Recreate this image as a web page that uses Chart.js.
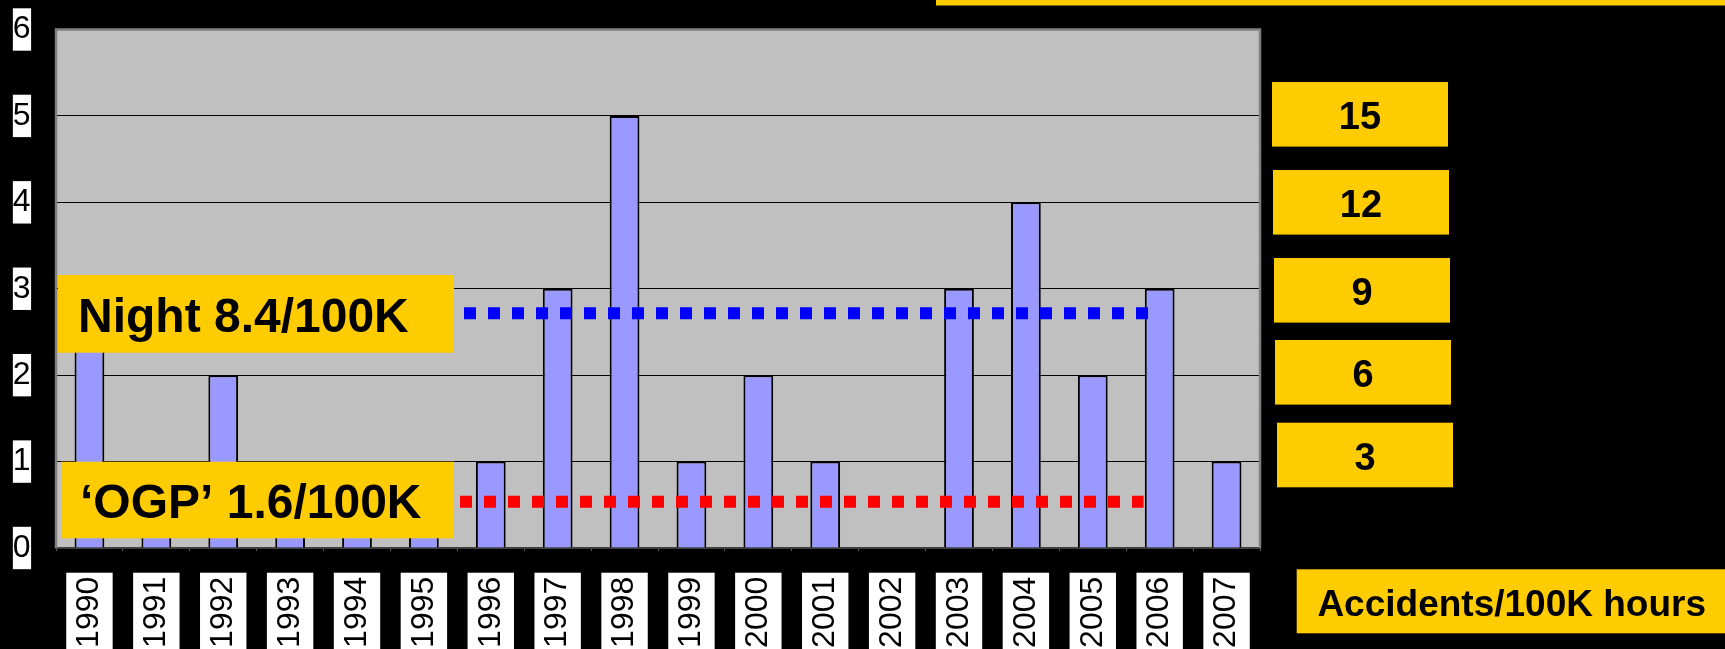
<!DOCTYPE html>
<html>
<head>
<meta charset="utf-8">
<script src="https://cdn.jsdelivr.net/npm/chart.js@4.4.1/dist/chart.umd.min.js"></script>
<style>
  html, body { margin: 0; padding: 0; background: #000; }
  #wrap { width: 1725px; height: 649px; position: relative; overflow: hidden; }
</style>
</head>
<body>
<div id="wrap"><canvas id="c" width="1725" height="649"></canvas></div>
<script>
// ---- data ----
const years = ['1990','1991','1992','1993','1994','1995','1996','1997','1998','1999','2000','2001','2002','2003','2004','2005','2006','2007'];
const accidents = [3, 1, 2, 1, 1, 1, 1, 3, 5, 1, 2, 1, 0, 3, 4, 2, 3, 1];
const yTickValues = [0, 1, 2, 3, 4, 5, 6];
// reference lines (y in accident-count units; x in category units on a hidden linear axis)
const nightLine = [{ x: 6.10, y: 2.716 }, { x: 16.34, y: 2.716 }];
const ogpLine = [{ x: 6.04, y: 0.536 }, { x: 16.26, y: 0.536 }];
const nightLabel = 'Night 8.4/100K';
const ogpLabel = '\u2018OGP\u2019 1.6/100K';
const rateLabels = ['15', '12', '9', '6', '3'];
const rateTitle = 'Accidents/100K hours';

const FONT = "'Liberation Sans', Arial, sans-serif";
const GOLD = '#FFCC00';

const bgPlugin = {
  id: 'bg',
  beforeDraw(chart) {
    const { ctx, chartArea: a } = chart;
    ctx.save();
    ctx.fillStyle = '#000';
    ctx.fillRect(0, 0, chart.width, chart.height);
    ctx.fillStyle = '#C0C0C0';
    ctx.fillRect(a.left, a.top, a.right - a.left, a.bottom - a.top);
    ctx.restore();
  },
  beforeDatasetsDraw(chart) {
    const { ctx, chartArea: a } = chart;
    ctx.save();
    ctx.strokeStyle = '#808080';
    ctx.lineWidth = 2.5;
    ctx.beginPath();
    ctx.moveTo(a.left, a.bottom);
    ctx.lineTo(a.left, a.top);
    ctx.lineTo(a.right, a.top);
    ctx.lineTo(a.right, a.bottom);
    ctx.stroke();
    ctx.restore();
  },
  afterDraw(chart) {
    const ctx = chart.ctx;
    ctx.save();
    ctx.fillStyle = GOLD;
    ctx.fillRect(936, 0, 789, 5.5);

    // Night box
    ctx.fillStyle = GOLD;
    ctx.fillRect(58, 275, 396, 77.7);
    ctx.fillStyle = '#000';
    ctx.font = 'bold 48px ' + FONT;
    ctx.textAlign = 'left';
    ctx.textBaseline = 'alphabetic';
    ctx.fillText(nightLabel, 78, 331.7);

    // OGP box
    ctx.fillStyle = GOLD;
    ctx.fillRect(61, 461.7, 393, 76.6);
    ctx.fillStyle = '#000';
    ctx.fillText(ogpLabel, 80, 518.3);

    // rate boxes
    const boxes = [
      [1272, 82], [1273, 170], [1274, 258], [1275, 340], [1277, 422.7]
    ];
    ctx.font = 'bold 38px ' + FONT;
    ctx.textAlign = 'center';
    rateLabels.forEach((t, i) => {
      const [bx, by] = boxes[i];
      ctx.fillStyle = GOLD;
      ctx.fillRect(bx, by, 176, 64.6);
      ctx.fillStyle = '#000';
      ctx.fillText(t, bx + 88, by + 47);
    });

    // title box
    ctx.fillStyle = GOLD;
    ctx.fillRect(1296.7, 569.3, 1725 - 1296.7, 64);
    ctx.fillStyle = '#000';
    ctx.font = 'bold 37px ' + FONT;
    ctx.fillText(rateTitle, 1511.7, 616);
    ctx.restore();
  }
};

new Chart(document.getElementById('c'), {
  type: 'bar',
  data: {
    labels: years,
    datasets: [
      {
        type: 'bar',
        label: 'Accidents',
        data: accidents,
        backgroundColor: '#9999FF',
        borderColor: '#000000',
        borderWidth: 2,
        grouped: false,
        barPercentage: 0.445,
        categoryPercentage: 1.0,
        xAxisID: 'x',
        yAxisID: 'y',
        order: 2
      },
      {
        type: 'line',
        label: 'Night',
        data: nightLine,
        xAxisID: 'x2',
        yAxisID: 'y',
        borderColor: '#0000FF',
        borderWidth: 12,
        borderDash: [12, 12],
        borderCapStyle: 'butt',
        pointRadius: 0,
        fill: false,
        order: 1
      },
      {
        type: 'line',
        label: 'OGP',
        data: ogpLine,
        xAxisID: 'x2',
        yAxisID: 'y',
        borderColor: '#FF0000',
        borderWidth: 12,
        borderDash: [12, 12],
        borderCapStyle: 'butt',
        pointRadius: 0,
        fill: false,
        order: 1
      }
    ]
  },
  options: {
    responsive: false,
    animation: false,
    devicePixelRatio: 1,
    layout: { padding: { left: 12.8, top: 29.5, right: 465, bottom: 0 } },
    plugins: { legend: { display: false }, tooltip: { enabled: false } },
    scales: {
      x: {
        type: 'category',
        position: 'bottom',
        offset: true,
        grid: {
          offset: true,
          drawOnChartArea: false,
          drawTicks: true,
          tickLength: 3,
          color: '#606060',
          lineWidth: 1
        },
        border: { display: true, color: '#404040', width: 2 },
        ticks: {
          font: { family: FONT, size: 32 },
          color: '#000',
          minRotation: 90,
          maxRotation: 90,
          autoSkip: false,
          padding: 25.7,
          labelOffset: -19.2,
          showLabelBackdrop: true,
          backdropColor: '#FFFFFF',
          backdropPadding: 4
        },
        afterFit(scale) { scale.height = 101; }
      },
      x2: {
        type: 'linear',
        position: 'bottom',
        display: false,
        offset: false,
        grid: { offset: false, display: false },
        ticks: { display: false },
        min: 0,
        max: 18
      },
      y: {
        type: 'linear',
        position: 'left',
        min: 0,
        max: 6,
        afterBuildTicks(scale) { scale.ticks = yTickValues.map(v => ({ value: v })); },
        grid: { color: '#000', lineWidth: 1, drawTicks: false },
        border: { display: false },
        ticks: {
          font: { family: FONT, size: 32 },
          color: '#000',
          crossAlign: 'far',
          padding: 0,
          showLabelBackdrop: true,
          backdropColor: '#FFFFFF',
          backdropPadding: { top: 2, bottom: 2, left: 0.5, right: 0.5 }
        },
        afterFit(scale) { scale.width = 43.2; }
      }
    }
  },
  plugins: [bgPlugin]
});
</script>
</body>
</html>
